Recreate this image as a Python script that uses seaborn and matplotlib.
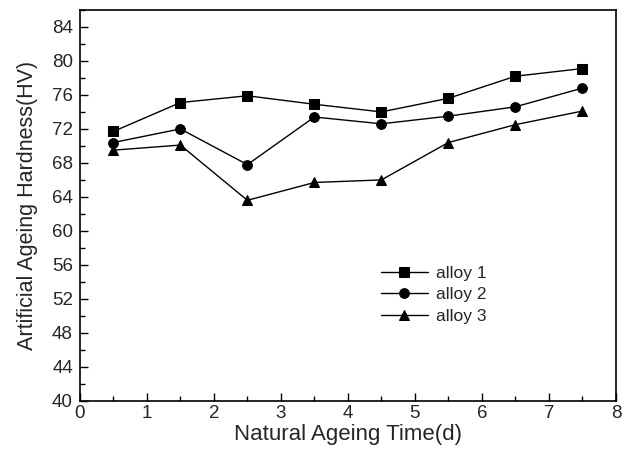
import matplotlib
matplotlib.use("Agg")
import matplotlib.pyplot as plt
import seaborn as sns
import pandas as pd
from matplotlib.ticker import MultipleLocator

# --- DATA ---
time_d = [0.5, 1.5, 2.5, 3.5, 4.5, 5.5, 6.5, 7.5]
alloy1 = [71.7, 75.1, 75.9, 74.9, 74.0, 75.6, 78.2, 79.1]
alloy2 = [70.4, 72.0, 67.8, 73.4, 72.6, 73.5, 74.6, 76.8]
alloy3 = [69.5, 70.1, 63.6, 65.7, 66.0, 70.4, 72.5, 74.1]
series_names = ["alloy 1", "alloy 2", "alloy 3"]

sns.set_style("ticks")
plt.rcParams['font.family'] = ['Liberation Sans', 'DejaVu Sans']

df = pd.DataFrame({
    "time": time_d * 3,
    "hardness": alloy1 + alloy2 + alloy3,
    "alloy": [n for n in series_names for _ in time_d],
})

fig = plt.figure(figsize=(6.24, 4.5), dpi=100)
ax = fig.add_axes([0.128, 0.109, 0.859, 0.869])

sns.lineplot(data=df, x="time", y="hardness", hue="alloy", style="alloy",
             palette=["black"] * 3, markers=["s", "o", "^"], dashes=False,
             markersize=7, linewidth=1.0, markeredgecolor="black", ax=ax)

ax.set_xlim(0, 8)
ax.set_ylim(40, 86)
ax.xaxis.set_major_locator(MultipleLocator(1))
ax.xaxis.set_minor_locator(MultipleLocator(0.5))
ax.yaxis.set_major_locator(MultipleLocator(4))
ax.yaxis.set_minor_locator(MultipleLocator(2))
ax.tick_params(which="both", direction="in", top=False, right=False,
               labelsize=13.5, color="black")
ax.tick_params(axis="y", which="both", pad=5)
ax.tick_params(axis="x", which="both", pad=3)
ax.tick_params(which="major", length=6, width=1)
ax.tick_params(which="minor", length=3.5, width=1)
for s in ax.spines.values():
    s.set_linewidth(1.2)
    s.set_color("black")

ax.set_xlabel("Natural Ageing Time(d)", fontsize=16, labelpad=1)
ax.set_ylabel("Artificial Ageing Hardness(HV)", fontsize=15.5, labelpad=10)

ax.legend(title=None, frameon=False, fontsize=12.5, loc="upper left",
          bbox_to_anchor=(0.532, 0.386), handlelength=2.7, labelspacing=0.37,
          handletextpad=0.5)

fig.savefig("out.png", dpi=100)
